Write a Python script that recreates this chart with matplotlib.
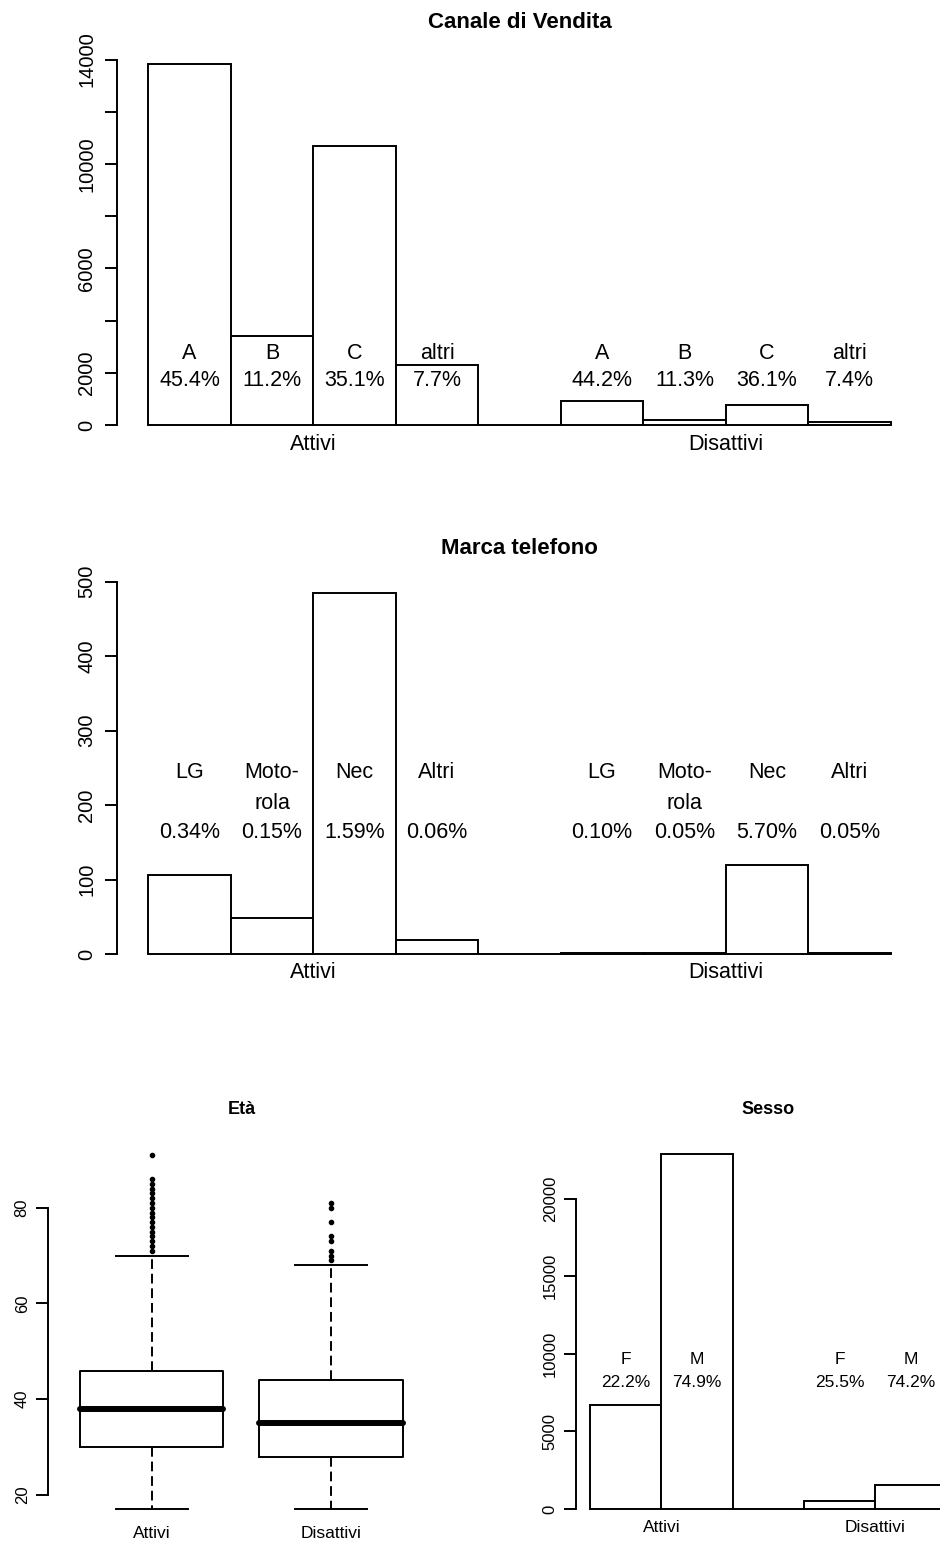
import matplotlib
matplotlib.use('Agg')
import matplotlib.pyplot as plt

plt.rcParams['font.family'] = ['Liberation Sans', 'DejaVu Sans']

# dati
gruppi = ['Attivi', 'Disattivi']

canale_labels = ['A', 'B', 'C', 'altri']
canale_attivi = [13830, 3410, 10690, 2290]
canale_disattivi = [920, 190, 766, 120]
canale_pct_attivi = ['45.4%', '11.2%', '35.1%', '7.7%']
canale_pct_disattivi = ['44.2%', '11.3%', '36.1%', '7.4%']

marca_riga1 = ['LG', 'Moto-', 'Nec', 'Altri']
marca_riga2 = ['', 'rola', '', '']
marca_attivi = [106, 48, 485, 19]
marca_disattivi = [2, 1, 119, 1]
marca_pct_attivi = ['0.34%', '0.15%', '1.59%', '0.06%']
marca_pct_disattivi = ['0.10%', '0.05%', '5.70%', '0.05%']

eta_q1 = [30, 28]
eta_med = [38, 35]
eta_q3 = [46, 44]
eta_whislo = [17, 17]
eta_whishi = [70, 68]
eta_out_attivi = [71, 72, 73, 74, 75, 76, 77, 78, 79, 80, 81, 82, 83, 84, 85, 86, 91]
eta_out_disattivi = [69, 70, 71, 73, 74, 77, 80, 81]

sesso_labels = ['F', 'M']
sesso_attivi = [6700, 22900]
sesso_disattivi = [500, 1550]
sesso_pct_attivi = ['22.2%', '74.9%']
sesso_pct_disattivi = ['25.5%', '74.2%']

W, H = 940, 1550
fig = plt.figure(figsize=(W / 100, H / 100), dpi=100)
LW = 1.4


def add_px_axes(left, right, top, bottom):
    # axes placed in pixel coords (origin top-left)
    return fig.add_axes([left / W, 1 - bottom / H, (right - left) / W, (bottom - top) / H])


def fit_ylim(ax, top, bottom, v_ref, y_ref, px_per_unit):
    ax.set_ylim(v_ref - (bottom - y_ref) / px_per_unit, v_ref + (y_ref - top) / px_per_unit)


def style_y_axis(ax, ticks, labels, size, pad):
    for s in ['top', 'right', 'bottom']:
        ax.spines[s].set_visible(False)
    ax.spines['left'].set_linewidth(LW)
    ax.spines['left'].set_bounds(ticks[0], ticks[-1])
    ax.set_yticks(ticks, labels)
    ax.tick_params(axis='y', length=9, width=LW, pad=pad, labelsize=size)
    plt.setp(ax.get_yticklabels(), rotation=90, va='center')
    ax.set_xticks([])
    ax.patch.set_visible(False)


def grouped_bars(ax, attivi, disattivi):
    heights = attivi + [0] + disattivi
    ax.bar(range(len(heights)), heights, width=1, align='edge', color='white',
           edgecolor='black', linewidth=LW)


def group_names(ax, xs, y, offset, size):
    for x, g in zip(xs, gruppi):
        ax.annotate(g, xy=(x, y), xytext=(0, offset), textcoords='offset pixels',
                    ha='center', va='center', fontsize=size)


def title_px(text, x, y, size):
    fig.text(x / W, 1 - y / H, text, ha='center', va='center', fontsize=size, fontweight='bold')


# --- Canale di Vendita ---
ax1 = add_px_axes(117.3, 921.7, 40, 440)
ax1.set_xlim(-0.376, 9.376)
fit_ylim(ax1, 40, 440, 0, 425, 0.0261)
grouped_bars(ax1, canale_attivi, canale_disattivi)
t1 = list(range(0, 14001, 2000))
style_y_axis(ax1, t1, ['0', '2000', '', '6000', '', '10000', '', '14000'], 14.5, 6)
n = len(canale_labels)
for i in range(n):
    ax1.text(i + 0.5, 2747, canale_labels[i], ha='center', va='center', fontsize=15.5)
    ax1.text(i + 0.5, 1686, canale_pct_attivi[i], ha='center', va='center', fontsize=15.5)
    ax1.text(i + n + 1.5, 2747, canale_labels[i], ha='center', va='center', fontsize=15.5)
    ax1.text(i + n + 1.5, 1686, canale_pct_disattivi[i], ha='center', va='center', fontsize=15.5)
group_names(ax1, [2, 7], 0, -20, 15.5)
title_px('Canale di Vendita', 519.5, 22, 16)

# --- Marca telefono ---
ax2 = add_px_axes(117.3, 921.7, 560, 970)
ax2.set_xlim(-0.376, 9.376)
fit_ylim(ax2, 560, 970, 0, 954, 0.745)
grouped_bars(ax2, marca_attivi, marca_disattivi)
t2 = [0, 100, 200, 300, 400, 500]
style_y_axis(ax2, t2, [str(t) for t in t2], 14.5, 6)
for i in range(n):
    for x0, pct in [(i + 0.5, marca_pct_attivi[i]), (i + n + 1.5, marca_pct_disattivi[i])]:
        ax2.text(x0, 244, marca_riga1[i], ha='center', va='center', fontsize=15.5)
        ax2.text(x0, 202.5, marca_riga2[i], ha='center', va='center', fontsize=15.5)
        ax2.text(x0, 163, pct, ha='center', va='center', fontsize=15.5)
group_names(ax2, [2, 7], 0, -18, 15.5)
title_px('Marca telefono', 519.5, 548, 16)

# --- Eta (boxplot) ---
ax3 = add_px_axes(47.7, 435.1, 1125, 1545)
stats = []
outs = [eta_out_attivi, eta_out_disattivi]
for j in range(2):
    stats.append({'med': eta_med[j], 'q1': eta_q1[j], 'q3': eta_q3[j],
                  'whislo': eta_whislo[j], 'whishi': eta_whishi[j],
                  'fliers': outs[j], 'label': gruppi[j]})
ax3.bxp(stats, positions=[1, 2], widths=0.8, capwidths=0.4,
        boxprops=dict(linewidth=LW, color='black'),
        medianprops=dict(linewidth=4.3, color='black', solid_capstyle='round'),
        whiskerprops=dict(linewidth=LW, color='black', linestyle=(0, (5, 2.5))),
        capprops=dict(linewidth=LW, color='black'),
        flierprops=dict(marker='o', markersize=3, markerfacecolor='black',
                        markeredgecolor='black'))
ax3.set_xlim(0.42, 2.58)
fit_ylim(ax3, 1125, 1545, 20, 1495, 4.788)
style_y_axis(ax3, [20, 40, 60, 80], ['20', '40', '60', '80'], 12, 4)
group_names(ax3, [1, 2], 20, -38, 12.5)
title_px('Età', 241.4, 1109.3, 13)

# --- Sesso ---
ax4 = add_px_axes(575.7, 961, 1125, 1545)
ax4.set_xlim(-0.2, 5.2)
fit_ylim(ax4, 1125, 1545, 0, 1509, 0.015515)
grouped_bars(ax4, sesso_attivi, sesso_disattivi)
t4 = [0, 5000, 10000, 15000, 20000]
style_y_axis(ax4, t4, [str(t) for t in t4], 12, 4)
m = len(sesso_labels)
for i in range(m):
    ax4.text(i + 0.5, 9668, sesso_labels[i], ha='center', va='center', fontsize=12.5)
    ax4.text(i + 0.5, 8141, sesso_pct_attivi[i], ha='center', va='center', fontsize=12.5)
    ax4.text(i + m + 1.5, 9668, sesso_labels[i], ha='center', va='center', fontsize=12.5)
    ax4.text(i + m + 1.5, 8141, sesso_pct_disattivi[i], ha='center', va='center', fontsize=12.5)
group_names(ax4, [1, 4], 0, -19, 12.5)
title_px('Sesso', 768, 1109.3, 13)

fig.savefig('out.png', dpi=100)
